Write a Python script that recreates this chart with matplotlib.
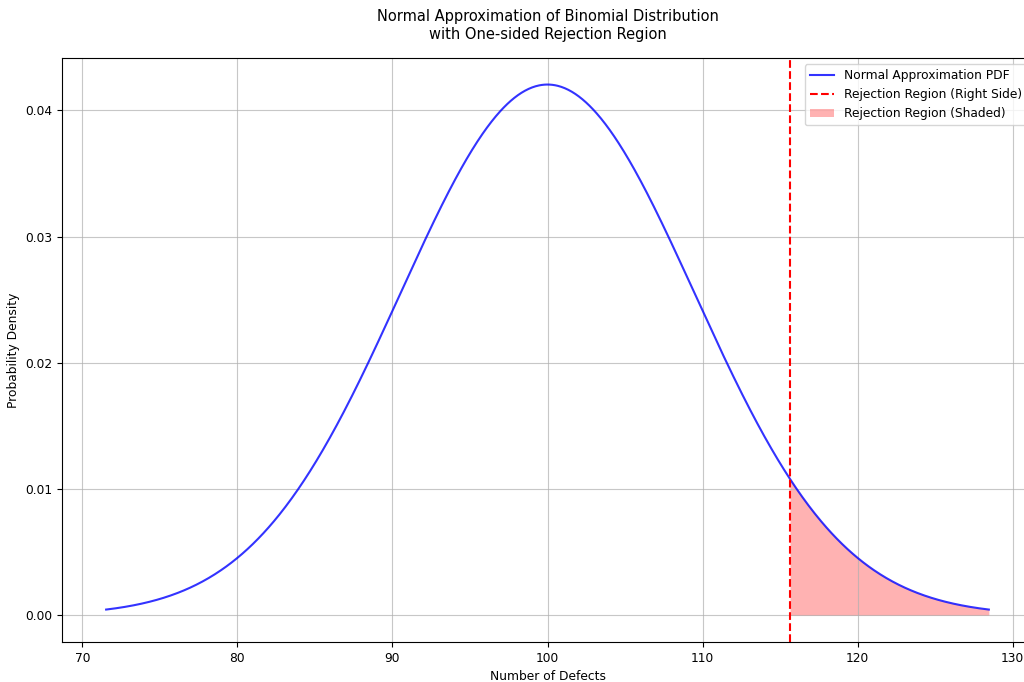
import numpy as np
import matplotlib
matplotlib.use("Agg")
import matplotlib.pyplot as plt

# Binomial parameters (mean 100, peak ~0.042)
n_trials = 1000
p_defect = 0.1
z_crit = 1.645  # one-sided, alpha = 0.05

mu = n_trials * p_defect
sigma = np.sqrt(n_trials * p_defect * (1 - p_defect))
x_crit = mu + z_crit * sigma

x = np.linspace(mu - 3 * sigma, mu + 3 * sigma, 1000)
pdf = np.exp(-0.5 * ((x - mu) / sigma) ** 2) / (sigma * np.sqrt(2 * np.pi))

plt.rcParams["font.size"] = 8.8

fig = plt.figure(figsize=(10.24, 6.82), dpi=100)
# axes run past the right edge, as in the reference crop
ax = fig.add_axes([62 / 1024, 1 - 642 / 682, 971 / 1024, 584 / 682])

ax.plot(x, pdf, color="blue", linewidth=1.5, alpha=0.8, label="Normal Approximation PDF")
ax.axvline(x_crit, color="red", linestyle="--", linewidth=1.5, label="Rejection Region (Right Side)")
mask = x >= x_crit
ax.fill_between(x[mask], pdf[mask], color="red", alpha=0.3, linewidth=0, label="Rejection Region (Shaded)")

ax.set_title("Normal Approximation of Binomial Distribution\nwith One-sided Rejection Region",
             fontsize=10.5, pad=14)
ax.set_xlabel("Number of Defects")
ax.set_ylabel("Probability Density")
ax.legend(loc="upper right")
ax.grid(True, alpha=0.7)

fig.savefig("out.png", dpi=100)
